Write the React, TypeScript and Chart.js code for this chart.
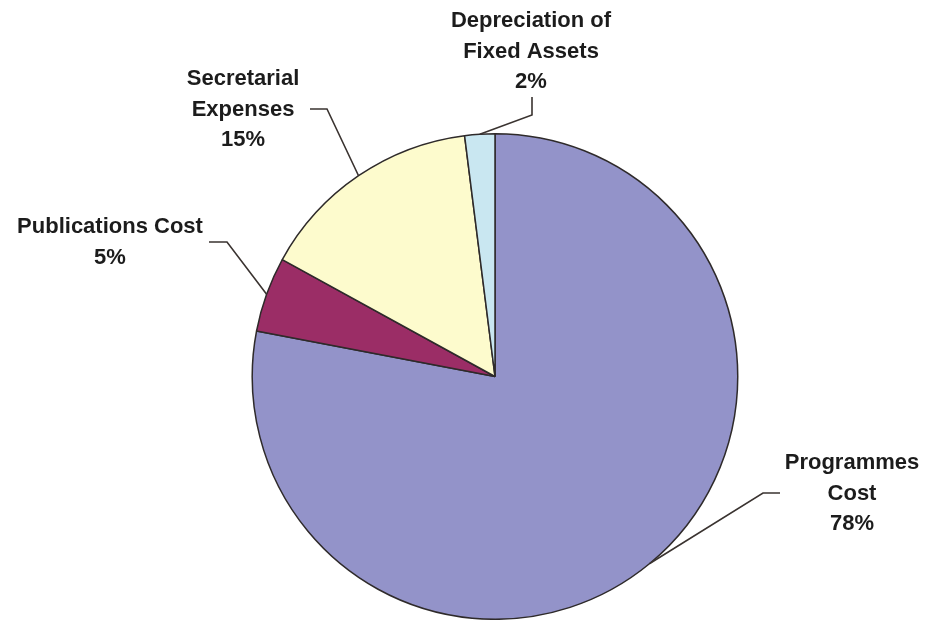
import React, { useEffect, useRef } from "react";
import { Chart, registerables } from "chart.js";

Chart.register(...registerables);

const categories = ["Programmes Cost", "Publications Cost", "Secretarial Expenses", "Depreciation of Fixed Assets"];
const values = [78, 5, 15, 2];
const labelLines = [["Programmes", "Cost"], ["Publications Cost"], ["Secretarial", "Expenses"], ["Depreciation of", "Fixed Assets"]];
const colors = ["#9393C9", "#9B2D66", "#FDFBCD", "#C9E7F1"];

// label layout: text centre x, first line y, elbow point, end point
const labelLayout = [
  { x: 852, y: 463, elbow: [763, 493], end: [780, 493] },
  { x: 110, y: 227, elbow: [227, 242], end: [209, 242] },
  { x: 243, y: 79, elbow: [327, 109], end: [310, 109] },
  { x: 531, y: 21, elbow: [532, 115], end: [532, 97] },
];

const leaderPlugin = {
  id: "leaderLabels",
  afterDatasetsDraw(chart: any) {
    const ctx = chart.ctx;
    const meta = chart.getDatasetMeta(0);
    ctx.save();
    meta.data.forEach((arc: any, i: number) => {
      const p = arc.getProps(["x", "y", "startAngle", "endAngle", "outerRadius"], true);
      const mid = (p.startAngle + p.endAngle) / 2;
      const ax = p.x + Math.cos(mid) * p.outerRadius;
      const ay = p.y + Math.sin(mid) * p.outerRadius;
      const L = labelLayout[i];
      ctx.strokeStyle = "#3a3330";
      ctx.lineWidth = 1.6;
      ctx.beginPath();
      ctx.moveTo(ax, ay);
      ctx.lineTo(L.elbow[0], L.elbow[1]);
      ctx.lineTo(L.end[0], L.end[1]);
      ctx.stroke();
      const lines = [...labelLines[i], `${values[i]}%`];
      ctx.fillStyle = "#1c1c1c";
      ctx.font = 'bold 22px "Liberation Sans", Arial, sans-serif';
      ctx.textAlign = "center";
      ctx.textBaseline = "middle";
      lines.forEach((t, j) => ctx.fillText(t, L.x, L.y + j * 30.5));
    });
    ctx.restore();
  },
};

export default function App() {
  const ref = useRef<HTMLCanvasElement>(null);
  useEffect(() => {
    document.body.style.margin = "0";
    const chart = new Chart(ref.current!, {
      type: "pie",
      data: {
        labels: categories,
        datasets: [
          {
            data: values,
            backgroundColor: colors,
            borderColor: "#2e2a2a",
            borderWidth: 1.5,
          },
        ],
      },
      options: {
        animation: false,
        responsive: false,
        layout: { padding: { left: 250, right: 190, top: 133, bottom: 0 } },
        plugins: { legend: { display: false }, tooltip: { enabled: false } },
      },
      plugins: [leaderPlugin],
    });
    return () => chart.destroy();
  }, []);
  return (
    <div style={{ position: "absolute", left: 0, top: 0, width: 930, height: 620, background: "#fff" }}>
      <canvas ref={ref} width={930} height={620} />
    </div>
  );
}
